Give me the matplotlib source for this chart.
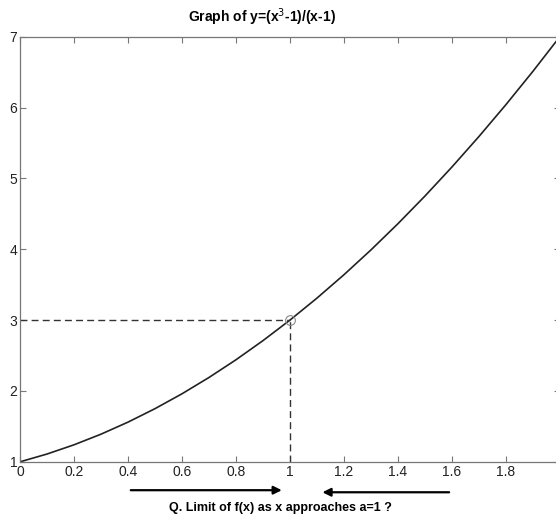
import matplotlib
matplotlib.use("Agg")
import matplotlib.pyplot as plt

plt.rcParams['font.family'] = ['Liberation Sans', 'DejaVu Sans']

# values: y = (x^3-1)/(x-1)
x_vals = [0.0, 0.1, 0.2, 0.3, 0.4, 0.5, 0.6, 0.7, 0.8, 0.9, 1.0,
          1.1, 1.2, 1.3, 1.4, 1.5, 1.6, 1.7, 1.8, 1.9, 2.0]
y_vals = [1.00, 1.11, 1.24, 1.39, 1.56, 1.75, 1.96, 2.19, 2.44, 2.71, 3.00,
          3.31, 3.64, 3.99, 4.36, 4.75, 5.16, 5.59, 6.04, 6.51, 7.00]
a_point = 1.0
limit_val = 3.0
x_ticks = [0, 0.2, 0.4, 0.6, 0.8, 1, 1.2, 1.4, 1.6, 1.8, 2]
x_tick_labels = ['0', '0.2', '0.4', '0.6', '0.8', '1', '1.2', '1.4', '1.6', '1.8', '2']
y_ticks = [1, 2, 3, 4, 5, 6, 7]

fig = plt.figure(figsize=(5.56, 5.16), dpi=100)
ax = fig.add_axes([0.036, 0.105, 0.971, 0.824])

ax.plot(x_vals, y_vals, color='#222222', lw=1.2)
ax.plot([0, a_point], [limit_val, limit_val], color='#333333', lw=1, ls=(0, (5, 3)))
ax.plot([a_point, a_point], [1, limit_val], color='#333333', lw=1, ls=(0, (5, 3)))
ax.plot([a_point], [limit_val], marker='o', ms=7, mfc='none', mec='#888888', mew=0.8)

ax.set_xlim(0, 2)
ax.set_ylim(1, 7)
ax.set_xticks(x_ticks)
ax.set_xticklabels(x_tick_labels)
ax.set_yticks(y_ticks)
ax.tick_params(direction='in', top=True, right=True, length=4, width=0.8,
               colors='#777777', labelcolor='#222222', labelsize=10, pad=2)
for s in ax.spines.values():
    s.set_color('#777777')
    s.set_linewidth(0.9)

# title sits left of the axes centre in the original
fig.text(0.471, 0.967, 'Graph of y=(x$^3$-1)/(x-1)', ha='center', va='center',
         fontsize=10, fontweight='bold')

# arrows under the axis
ax.annotate('', xy=(0.98, 0.05), xytext=(0.4, 0.05), xycoords=('data', 'figure fraction'),
            arrowprops=dict(arrowstyle='-|>', color='black', lw=1.6, mutation_scale=12))
ax.annotate('', xy=(1.11, 0.046), xytext=(1.6, 0.046), xycoords=('data', 'figure fraction'),
            arrowprops=dict(arrowstyle='-|>', color='black', lw=1.6, mutation_scale=12))
fig.text(0.504, 0.003, 'Q. Limit of f(x) as x approaches a=1 ?', ha='center', va='bottom',
         fontsize=9, fontweight='bold')

fig.savefig('out.png', dpi=100)
